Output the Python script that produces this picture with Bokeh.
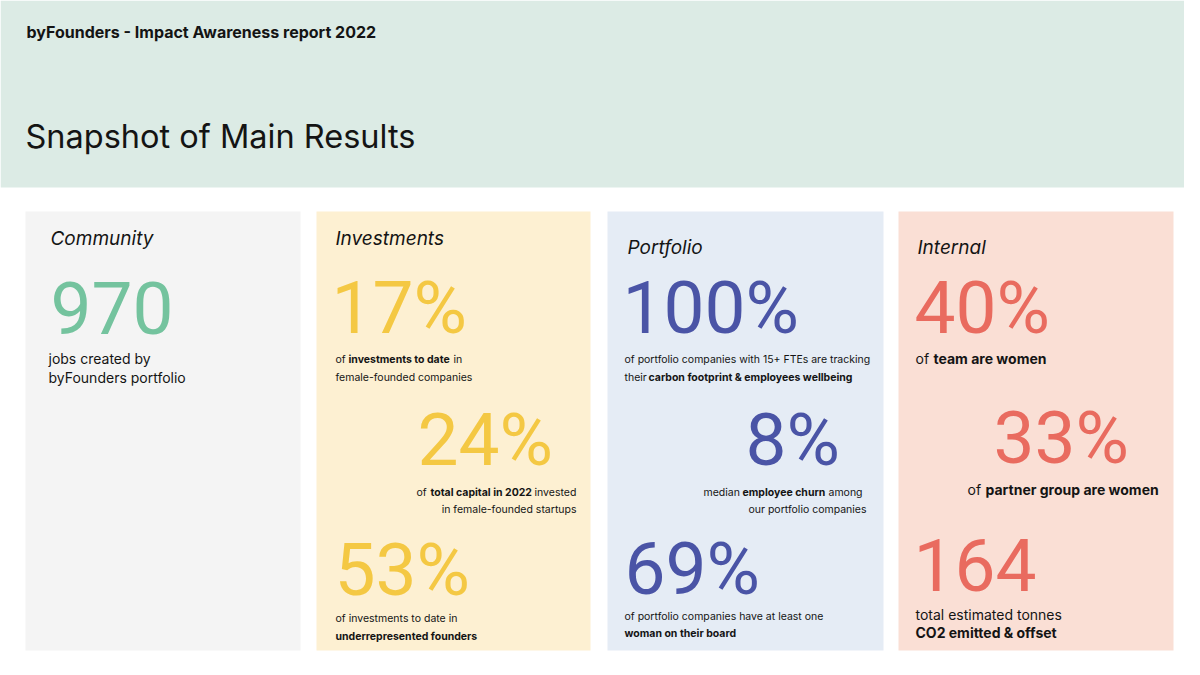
from bokeh.plotting import figure
from bokeh.models import Range1d
from bokeh.core.properties import value
from bokeh.embed import file_html
from bokeh.resources import INLINE

# ---------------- data ----------------
report_header = "byFounders  -  Impact Awareness report 2022"
page_title = "Snapshot of Main Results"

sections = ["Community", "Investments", "Portfolio", "Internal"]

community_values = ["970"]
community_captions = [
    ["jobs created by", "byFounders portfolio"],
]

investment_values = ["17%", "24%", "53%"]
investment_captions = [
    ["of **investments to date** in", "female-founded companies"],
    ["of **total capital in 2022** invested", "in female-founded startups"],
    ["of investments to date in", "**underrepresented founders**"],
]

portfolio_values = ["100%", "8%", "69%"]
portfolio_captions = [
    ["of portfolio companies with 15+ FTEs are tracking",
     "their **carbon footprint & employees wellbeing**"],
    ["median **employee churn** among", "our portfolio companies"],
    ["of portfolio companies have at least one", "**woman on their board**"],
]

internal_values = ["40%", "33%", "164"]
internal_captions = [
    ["of **team are women**"],
    ["of **partner group are women**"],
    ["total estimated tonnes", "**CO2 emitted & offset**"],
]

# ---------------- style / layout ----------------
FONT = value("Inter")
NUM_FONT = value("Roboto")
HEADER_BG = "#dcebe5"
PANEL_BG = ["#f4f4f4", "#fdf0d2", "#e5ecf5", "#fadfd5"]
NUM_COLOR = ["#74c39e", "#f4c843", "#4a54a6", "#e96b5f"]
TEXT_COLOR = "#141414"

panel_x = [(25, 300), (316, 590), (607, 883), (898, 1173)]
panel_y = (211, 650)
label_pos = [(50, 238), (335, 238), (627, 247), (917, 247)]

# number positions (x, visual centre) per panel
num_pos = [
    [(50, 307)],
    [(331, 307), (417, 439), (334, 569)],
    [(622, 307), (745, 439), (624, 568)],
    [(914, 307), (993, 437), (913, 564)],
]
# caption line layouts: (centre y, [segment x starts], align) per stat
cap_layout = [
    [[(358, [48], "left"), (377, [48], "left")]],
    [[(359, [335, 348, 453], "left"), (377, [335], "left")],
     [(492, [416, 430, 534], "left"), (509, [576], "right")],
     [(618, [335], "left"), (636, [335], "left")]],
    [[(359, [624], "left"), (377, [624, 648], "left")],
     [(492, [703, 742, 828], "left"), (509, [866], "right")],
     [(616, [624], "left"), (633, [624], "left")]],
    [[(358, [915, 933], "left")],
     [(489, [967, 985], "left")],
     [(614, [915], "left"), (632, [915], "left")]],
]
cap_size = ["14px", "10.5px", "10.5px", "14px"]

all_values = [community_values, investment_values, portfolio_values, internal_values]
all_captions = [community_captions, investment_captions, portfolio_captions, internal_captions]

# ---------------- figure ----------------
p = figure(width=1184, height=659, x_range=Range1d(0, 1184), y_range=Range1d(659, 0),
           output_backend="svg", toolbar_location=None, min_border=0,
           x_axis_type=None, y_axis_type=None)
p.grid.visible = False
p.outline_line_color = None
p.background_fill_color = "white"
p.border_fill_color = "white"

# header band
p.quad(left=[0], right=[1184], top=[0], bottom=[187], fill_color=HEADER_BG, line_color=None)
p.text(x=[26], y=[31], text=[report_header], text_font=FONT, text_font_size="16px",
       text_font_style="bold", text_color=TEXT_COLOR, text_baseline="middle")
p.text(x=[25], y=[136], text=[page_title], text_font=FONT, text_font_size="32.5px",
       text_color=TEXT_COLOR, text_baseline="middle")

# panels
p.quad(left=[a for a, b in panel_x], right=[b for a, b in panel_x],
       top=[panel_y[0]] * 4, bottom=[panel_y[1]] * 4, fill_color=PANEL_BG, line_color=None)

p.text(x=[x for x, y in label_pos], y=[y for x, y in label_pos], text=sections,
       text_font=FONT, text_font_size="19px", text_font_style="italic",
       text_color=TEXT_COLOR, text_baseline="middle")


def segments(line):
    parts = line.split("**")
    out = []
    for i, part in enumerate(parts):
        s = part.strip()
        if s:
            out.append((s, i % 2 == 1))
    return out


for k in range(4):
    vals = all_values[k]
    p.text(x=[x for x, y in num_pos[k]], y=[y for x, y in num_pos[k]], text=vals,
           text_font=NUM_FONT, text_font_size="73px", text_color=NUM_COLOR[k],
           text_baseline="middle")
    groups = {}
    for caps, lay in zip(all_captions[k], cap_layout[k]):
        for line, (cy, xs, align) in zip(caps, lay):
            for (s, bold), x in zip(segments(line), xs):
                g = groups.setdefault((bold, align), ([], [], []))
                g[0].append(x); g[1].append(cy); g[2].append(s)
    for (bold, align), (gx, gy, gt) in groups.items():
        p.text(x=gx, y=gy, text=gt, text_font=FONT, text_font_size=cap_size[k],
               text_font_style="bold" if bold else "normal", text_align=align,
               text_color=TEXT_COLOR, text_baseline="middle")

open("out.html", "w").write(file_html(p, INLINE))
